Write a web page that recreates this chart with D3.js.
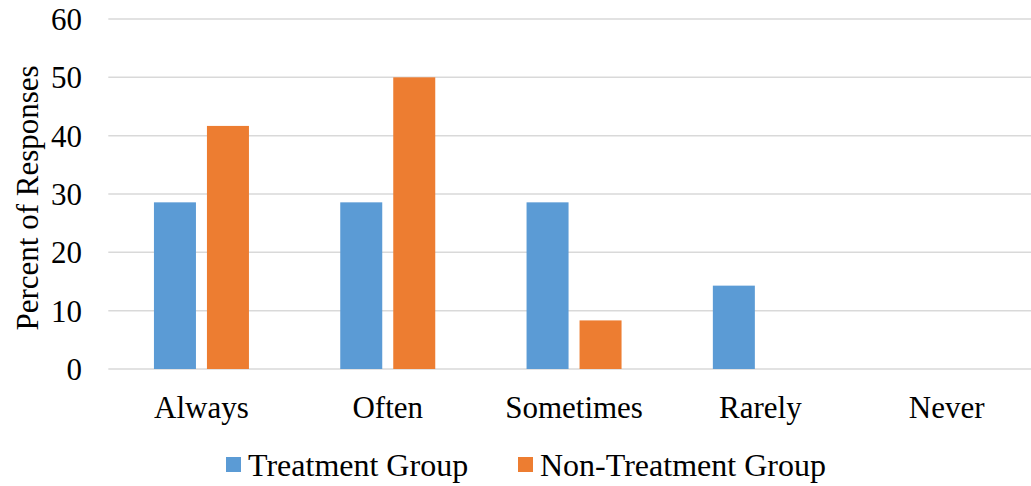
<!DOCTYPE html>
<html>
<head>
<meta charset="utf-8">
<script src="https://cdn.jsdelivr.net/npm/d3@7"></script>
</head>
<body style="margin:0;padding:0;background:#fff;">
<svg id="fig" width="1031" height="486" style="display:block;"></svg>
<script>
// Response frequency by group (percent of responses)
const categories = ["Always", "Often", "Sometimes", "Rarely", "Never"];
const seriesNames = ["Treatment Group", "Non-Treatment Group"];
const treatmentValues = [28.57, 28.57, 28.57, 14.29, 0];
const nonTreatmentValues = [41.67, 50, 8.33, 0, 0];
const yTicks = [0, 10, 20, 30, 40, 50, 60];
const colors = ["#5b9bd5", "#ed7d31"];

const seriesValues = [treatmentValues, nonTreatmentValues];

const svg = d3.select("#fig");

function styleLabel(sel, size) {
  return sel
    .attr("font-family", "Liberation Serif")
    .style("font-family", '"Liberation Serif"')
    .style("font-size", (size || 31) + "px")
    .style("fill", "#000");
}

const plot = { left: 108.3, right: 1039.8, top: 19, bottom: 369 };

const x0 = d3.scaleBand()
  .domain(categories)
  .range([plot.left, plot.right])
  .paddingInner(0)
  .paddingOuter(0);

// Inner band for the two bars of each category
const groupWidth = 95;
const x1 = d3.scaleBand()
  .domain(seriesNames)
  .range([(x0.bandwidth() - groupWidth) / 2, (x0.bandwidth() + groupWidth) / 2])
  .paddingInner(0.2075)
  .paddingOuter(0);

const y = d3.scaleLinear().domain([0, 60]).range([plot.bottom, plot.top]);

// Horizontal gridlines
svg.append("g")
  .selectAll("line")
  .data(yTicks)
  .join("line")
  .attr("x1", plot.left)
  .attr("x2", 1031)
  .attr("y1", d => y(d))
  .attr("y2", d => y(d))
  .attr("stroke", "#d9d9d9")
  .attr("stroke-width", 1.5);

// Y-axis tick labels
const yAxis = d3.axisLeft(y).tickValues(yTicks).tickSize(0).tickPadding(0);
const yAxisG = svg.append("g")
  .attr("transform", `translate(82,0)`)
  .call(yAxis)
  .attr("font-family", "Liberation Serif")
  .attr("font-size", null);
yAxisG.select(".domain").remove();
yAxisG.selectAll("text")
  .call(styleLabel, 31)
  .attr("dy", "0.34em");

// Bars
const groups = svg.append("g")
  .selectAll("g")
  .data(categories)
  .join("g")
  .attr("transform", d => `translate(${x0(d)},0)`);

groups.selectAll("rect")
  .data((c, i) => seriesNames.map((s, j) => ({ series: s, value: seriesValues[j][i], j })))
  .join("rect")
  .attr("x", d => x1(d.series))
  .attr("width", x1.bandwidth())
  .attr("y", d => y(d.value))
  .attr("height", d => y(0) - y(d.value))
  .attr("fill", d => colors[d.j]);

// X-axis category labels
const xAxis = d3.axisBottom(x0).tickSize(0).tickPadding(0);
const xAxisG = svg.append("g")
  .attr("transform", `translate(0,${plot.bottom})`)
  .call(xAxis)
  .attr("font-family", "Liberation Serif")
  .attr("font-size", null);
xAxisG.select(".domain").remove();
xAxisG.selectAll("text")
  .call(styleLabel, 31)
  .attr("y", 49)
  .attr("dy", 0);

// Y-axis title
svg.append("text")
  .attr("transform", "translate(38,198) rotate(-90)")
  .attr("text-anchor", "middle")
  .call(styleLabel, 31)
  .text("Percent of Responses");

// Legend
const legendItems = [
  { name: seriesNames[0], color: colors[0], x: 226 },
  { name: seriesNames[1], color: colors[1], x: 518 }
];
const legend = svg.append("g");
const li = legend.selectAll("g")
  .data(legendItems)
  .join("g")
  .attr("transform", d => `translate(${d.x},0)`);
li.append("rect")
  .attr("x", 0)
  .attr("y", 457)
  .attr("width", 15)
  .attr("height", 15)
  .attr("fill", d => d.color);
li.append("text")
  .attr("x", 22)
  .attr("y", 476)
  .call(styleLabel, 32)
  .text(d => d.name);
</script>
</body>
</html>
